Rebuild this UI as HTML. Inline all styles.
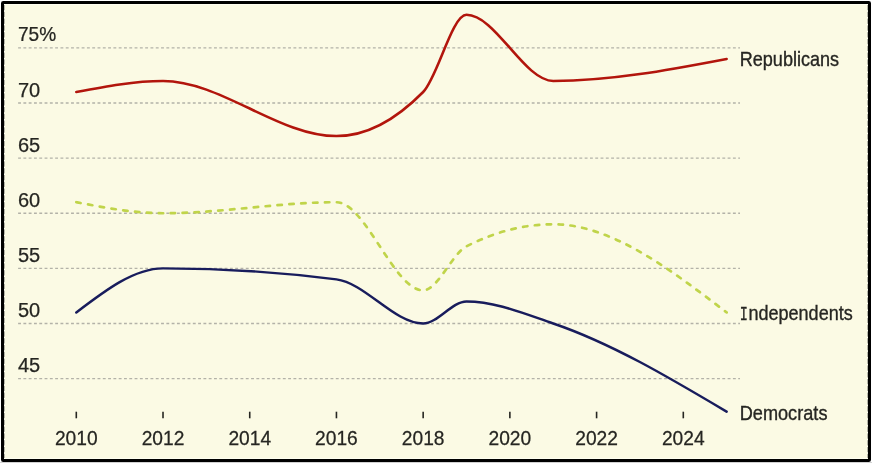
<!DOCTYPE html>
<html lang="en"><head><meta charset="utf-8"><title>Chart</title>
<style>
html,body{margin:0;padding:0;background:#fff;}
body{width:872px;height:463px;overflow:hidden;}
svg{display:block;}
text{font-family:"Liberation Sans",sans-serif;font-size:20px;fill:#262622;stroke:#262622;stroke-width:0.25px;}
.grid line{stroke:#b3b2a8;stroke-width:1.4;stroke-dasharray:2.87 2.425;}
.labels text{stroke-width:0.35px;}
.ticks line{stroke:#262622;stroke-width:1.6;}
</style></head><body>
<svg width="872" height="463" viewBox="0 0 872 463">
<rect x="0" y="0" width="872" height="463" fill="#ffffff"/>
<rect x="0" y="462" width="872" height="1" fill="#d2d2d2"/>
<rect x="2.5" y="2.5" width="867" height="458" rx="0.8" ry="0.8" fill="#fbfae4" stroke="#000" stroke-width="3"/>
<rect x="4.5" y="4.5" width="863" height="454" fill="none" stroke="#fefef0" stroke-width="1"/>
<line x1="4.4" x2="4.4" y1="5" y2="458" stroke="#77776c" stroke-width="0.8" stroke-dasharray="5.3 1.5" opacity="0.75"/>
<line x1="867.6" x2="867.6" y1="5" y2="458" stroke="#77776c" stroke-width="0.8" stroke-dasharray="5.3 1.5" opacity="0.75"/>
<g class="grid">
<line x1="18.1" x2="740" y1="47.90" y2="47.90"/>
<line x1="18.1" x2="740" y1="103.01" y2="103.01"/>
<line x1="18.1" x2="740" y1="158.13" y2="158.13"/>
<line x1="18.1" x2="740" y1="213.25" y2="213.25"/>
<line x1="18.1" x2="740" y1="268.36" y2="268.36"/>
<line x1="18.1" x2="740" y1="323.47" y2="323.47"/>
<line x1="18.1" x2="740" y1="378.59" y2="378.59"/>
</g>
<g class="ylabels">
<text transform="translate(18,41.4) scale(0.955,1)">75%</text>
<text transform="translate(18,96.5) scale(1.0,1)">70</text>
<text transform="translate(18,151.6) scale(1.0,1)">65</text>
<text transform="translate(18,206.7) scale(1.0,1)">60</text>
<text transform="translate(18,261.9) scale(1.0,1)">55</text>
<text transform="translate(18,317.0) scale(1.0,1)">50</text>
<text transform="translate(18,372.1) scale(1.0,1)">45</text>
</g>
<g class="ticks">
<line x1="76.30" x2="76.30" y1="411.7" y2="418.3"/>
<line x1="163.01" x2="163.01" y1="411.7" y2="418.3"/>
<line x1="249.73" x2="249.73" y1="411.7" y2="418.3"/>
<line x1="336.44" x2="336.44" y1="411.7" y2="418.3"/>
<line x1="423.16" x2="423.16" y1="411.7" y2="418.3"/>
<line x1="509.87" x2="509.87" y1="411.7" y2="418.3"/>
<line x1="596.59" x2="596.59" y1="411.7" y2="418.3"/>
<line x1="683.30" x2="683.30" y1="411.7" y2="418.3"/>
</g>
<g class="xlabels">
<text transform="translate(76.30,445) scale(0.96,1)" text-anchor="middle">2010</text>
<text transform="translate(163.01,445) scale(0.96,1)" text-anchor="middle">2012</text>
<text transform="translate(249.73,445) scale(0.96,1)" text-anchor="middle">2014</text>
<text transform="translate(336.44,445) scale(0.96,1)" text-anchor="middle">2016</text>
<text transform="translate(423.16,445) scale(0.96,1)" text-anchor="middle">2018</text>
<text transform="translate(509.87,445) scale(0.96,1)" text-anchor="middle">2020</text>
<text transform="translate(596.59,445) scale(0.96,1)" text-anchor="middle">2022</text>
<text transform="translate(683.30,445) scale(0.96,1)" text-anchor="middle">2024</text>
</g>
<path d="M76.30,202.22C105.20,207.73 134.11,213.25 163.01,213.25C220.82,213.25 278.63,202.22 336.44,202.22C365.35,202.22 394.25,290.41 423.16,290.41C437.61,290.41 452.06,253.66 466.51,246.31C495.42,231.62 524.32,224.27 553.23,224.27C611.04,224.27 668.85,268.36 726.66,312.45" fill="none" stroke="#c0d44a" stroke-width="2.7" stroke-dasharray="4.4 7.5" stroke-linecap="round"/>
<path d="M76.30,312.45C105.20,290.41 134.11,268.36 163.01,268.36C220.82,268.36 278.63,272.03 336.44,279.38C365.35,283.06 394.25,323.47 423.16,323.47C437.61,323.47 452.06,301.43 466.51,301.43C495.42,301.43 524.32,313.68 553.23,323.47C611.04,343.07 668.85,377.37 726.66,411.66" fill="none" stroke="#181c5c" stroke-width="2.45" stroke-linecap="round"/>
<path d="M76.30,91.99C105.20,86.48 134.11,80.97 163.01,80.97C220.82,80.97 278.63,136.08 336.44,136.08C365.35,136.08 394.25,121.39 423.16,91.99C437.61,77.29 452.06,14.83 466.51,14.83C495.42,14.83 524.32,80.97 553.23,80.97C611.04,80.97 668.85,69.95 726.66,58.92" fill="none" stroke="#b2150c" stroke-width="2.55" stroke-linecap="round"/>
<g class="labels">
<text transform="translate(739.7,66) scale(0.904,1)">Republicans</text>
<text transform="translate(739.7,320) scale(0.902,1)"><tspan font-family="Liberation Mono, monospace" font-size="20.6px" dx="0.1" textLength="9" lengthAdjust="spacingAndGlyphs">I</tspan><tspan dx="0.6">ndependents</tspan></text>
<text transform="translate(739.7,419.5) scale(0.908,1)">Democrats</text>
</g>
</svg>
</body></html>
